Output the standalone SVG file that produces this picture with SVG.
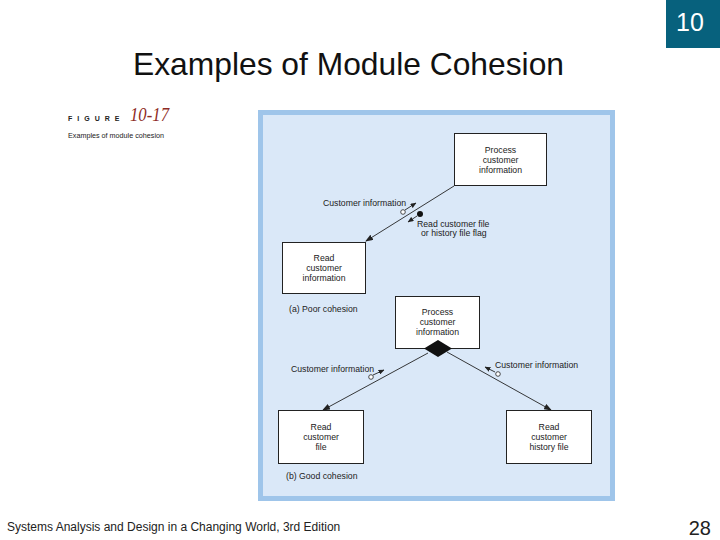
<svg xmlns="http://www.w3.org/2000/svg" width="720" height="540" viewBox="0 0 720 540">
<defs>
<style>
.t{font-family:"Liberation Sans",Arial,sans-serif;font-size:8.7px;fill:#222;}
.c{text-anchor:middle;}
.box{fill:#fff;stroke:#222;stroke-width:1;}
.ln{stroke:#222;stroke-width:0.9;fill:none;}
</style>
<marker id="ah" markerWidth="8" markerHeight="6" refX="7" refY="3" orient="auto" markerUnits="userSpaceOnUse">
<path d="M0,0 L8,3 L0,6 Z" fill="#222"/>
</marker>
<marker id="sh" markerWidth="6" markerHeight="5" refX="5.5" refY="2.5" orient="auto" markerUnits="userSpaceOnUse">
<path d="M0,0 L6,2.5 L0,5 Z" fill="#222"/>
</marker>
</defs>
<rect width="720" height="540" fill="#fff"/>
<rect x="666" y="0" width="54" height="48" fill="#07617d"/>
<text x="690" y="31" font-family="Liberation Sans,Arial,sans-serif" font-size="25" fill="#fff" text-anchor="middle">10</text>
<text x="133" y="75" font-family="Liberation Sans,Arial,sans-serif" font-size="32" fill="#111" textLength="431" lengthAdjust="spacingAndGlyphs">Examples of Module Cohesion</text>
<text x="68" y="121" font-family="Liberation Sans,Arial,sans-serif" font-size="7" font-weight="bold" fill="#222" letter-spacing="5">FIGURE</text>
<text x="130" y="121" font-family="Liberation Serif,Times New Roman,serif" font-size="18" font-style="italic" fill="#8e2b24" textLength="39" lengthAdjust="spacingAndGlyphs">10-17</text>
<text x="68" y="138" font-family="Liberation Sans,Arial,sans-serif" font-size="7.5" fill="#222" textLength="96" lengthAdjust="spacingAndGlyphs">Examples of module cohesion</text>
<rect x="260.5" y="112.5" width="352" height="386" fill="#dae8f8" stroke="#9fc5ea" stroke-width="5"/>
<g id="connectors">
<line class="ln" x1="454" y1="186" x2="366" y2="241" marker-end="url(#ah)"/>
<circle cx="403" cy="212" r="2.3" fill="#fff" stroke="#222" stroke-width="0.8"/>
<line class="ln" x1="405" y1="210" x2="416" y2="203" marker-end="url(#sh)"/>
<circle cx="420" cy="214" r="3" fill="#111"/>
<line class="ln" x1="417" y1="216" x2="408" y2="222" marker-end="url(#sh)"/>
<line class="ln" x1="428" y1="353" x2="323" y2="410" marker-end="url(#ah)"/>
<line class="ln" x1="447" y1="352" x2="551" y2="410" marker-end="url(#ah)"/>
<circle cx="371" cy="377" r="2.3" fill="#fff" stroke="#222" stroke-width="0.8"/>
<line class="ln" x1="373" y1="375" x2="384" y2="370" marker-end="url(#sh)"/>
<circle cx="498" cy="374" r="2.3" fill="#fff" stroke="#222" stroke-width="0.8"/>
<line class="ln" x1="495" y1="372" x2="485" y2="367" marker-end="url(#sh)"/>
</g>
<g id="n1">
<rect class="box" x="454.5" y="133.5" width="92" height="52"/>
<text class="t c" x="500.5" y="153">Process</text>
<text class="t c" x="500.5" y="163">customer</text>
<text class="t c" x="500.5" y="173">information</text>
</g>
<g id="n2">
<rect class="box" x="282.5" y="242.5" width="83" height="51"/>
<text class="t c" x="324" y="261">Read</text>
<text class="t c" x="324" y="271">customer</text>
<text class="t c" x="324" y="281">information</text>
</g>
<g id="labels-a">
<text class="t" x="323" y="206">Customer information</text>
<text class="t" x="417" y="227">Read customer file</text>
<text class="t" x="421" y="236">or history file flag</text>
<text class="t" x="289" y="312">(a) Poor cohesion</text>
</g>
<g id="n3">
<rect class="box" x="395.5" y="296.5" width="84" height="52"/>
<text class="t c" x="437.5" y="315">Process</text>
<text class="t c" x="437.5" y="325">customer</text>
<text class="t c" x="437.5" y="335">information</text>
<path d="M424,348.5 L438,340 L452,348.5 L438,357 Z" fill="#111"/>
</g>
<g id="n4">
<rect class="box" x="278.5" y="410.5" width="85" height="53"/>
<text class="t c" x="321" y="430">Read</text>
<text class="t c" x="321" y="440">customer</text>
<text class="t c" x="321" y="450">file</text>
</g>
<g id="n5">
<rect class="box" x="506.5" y="410.5" width="85" height="53"/>
<text class="t c" x="549" y="430">Read</text>
<text class="t c" x="549" y="440">customer</text>
<text class="t c" x="549" y="450">history file</text>
</g>
<g id="labels-b">
<text class="t" x="291" y="372">Customer information</text>
<text class="t" x="495" y="368">Customer information</text>
<text class="t" x="286" y="479">(b) Good cohesion</text>
</g>
<text x="7" y="531" font-family="Liberation Sans,Arial,sans-serif" font-size="12" fill="#222">Systems Analysis and Design in a Changing World, 3rd Edition</text>
<text x="711" y="535" font-family="Liberation Sans,Arial,sans-serif" font-size="20" fill="#222" text-anchor="end">28</text>
</svg>
